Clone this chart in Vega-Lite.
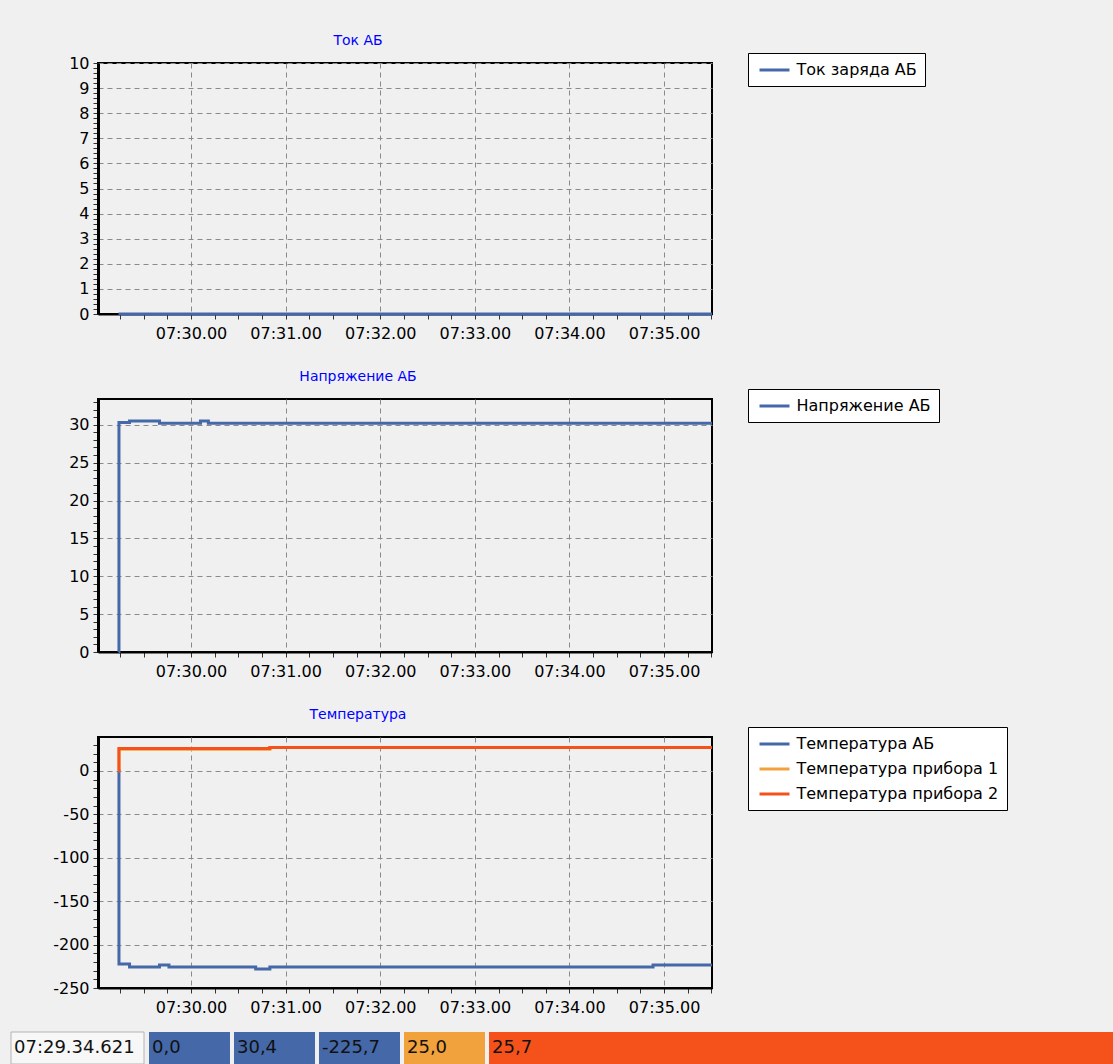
{
  "$schema": "https://vega.github.io/schema/vega-lite/v6.json",
  "background": "#f0f0f0",
  "padding": {"left": 10, "top": 32, "right": 0, "bottom": 0},
  "datasets": {
    "current": [
      {"t": "2024-01-01T07:29:14.000", "v": 0, "s": "Ток заряда АБ"},
      {"t": "2024-01-01T07:35:30.400", "v": 0, "s": "Ток заряда АБ"}
    ],
    "voltage": [
      {"t": "2024-01-01T07:29:14.000", "v": 0, "s": "Напряжение АБ"},
      {"t": "2024-01-01T07:29:14.300", "v": 30.3, "s": "Напряжение АБ"},
      {"t": "2024-01-01T07:29:21.000", "v": 30.5, "s": "Напряжение АБ"},
      {"t": "2024-01-01T07:29:40.000", "v": 30.2, "s": "Напряжение АБ"},
      {"t": "2024-01-01T07:30:06.000", "v": 30.5, "s": "Напряжение АБ"},
      {"t": "2024-01-01T07:30:11.000", "v": 30.2, "s": "Напряжение АБ"},
      {"t": "2024-01-01T07:35:30.400", "v": 30.2, "s": "Напряжение АБ"}
    ],
    "temp": [
      {"t": "2024-01-01T07:29:14.000", "v": 0, "s": "Температура АБ"},
      {"t": "2024-01-01T07:29:14.300", "v": -222.5, "s": "Температура АБ"},
      {"t": "2024-01-01T07:29:21.000", "v": -225.7, "s": "Температура АБ"},
      {"t": "2024-01-01T07:29:40.000", "v": -223.5, "s": "Температура АБ"},
      {"t": "2024-01-01T07:29:46.000", "v": -225.7, "s": "Температура АБ"},
      {"t": "2024-01-01T07:30:41.000", "v": -228, "s": "Температура АБ"},
      {"t": "2024-01-01T07:30:50.000", "v": -225.7, "s": "Температура АБ"},
      {"t": "2024-01-01T07:34:53.000", "v": -223.5, "s": "Температура АБ"},
      {"t": "2024-01-01T07:35:30.400", "v": -223.5, "s": "Температура АБ"},
      {"t": "2024-01-01T07:29:14.000", "v": 0, "s": "Температура прибора 1"},
      {"t": "2024-01-01T07:29:14.300", "v": 25.0, "s": "Температура прибора 1"},
      {"t": "2024-01-01T07:30:50.000", "v": 27.0, "s": "Температура прибора 1"},
      {"t": "2024-01-01T07:35:30.400", "v": 27.0, "s": "Температура прибора 1"},
      {"t": "2024-01-01T07:29:14.000", "v": 0, "s": "Температура прибора 2"},
      {"t": "2024-01-01T07:29:14.300", "v": 25.7, "s": "Температура прибора 2"},
      {"t": "2024-01-01T07:30:50.000", "v": 27.0, "s": "Температура прибора 2"},
      {"t": "2024-01-01T07:35:30.400", "v": 27.0, "s": "Температура прибора 2"}
    ]
  },
  "config": {
    "font": "DejaVu Sans",
    "view": {"stroke": "#000000", "strokeWidth": 2},
    "axis": {
      "labelFont": "DejaVu Sans",
      "labelFontSize": 16,
      "labelColor": "#000000",
      "tickColor": "#333333",
      "tickWidth": 1,
      "tickSize": 5,
      "domainColor": "#000000",
      "gridColor": "#8a8a8a",
      "gridDash": [5, 4],
      "gridWidth": 1,
      "labelOverlap": false,
      "labelFlush": false
    },
    "axisY": {"domainWidth": 3, "minExtent": 87, "labelPadding": 4},
    "axisX": {"domainWidth": 2, "labelPadding": 6},
    "legend": {
      "fillColor": "#ffffff",
      "strokeColor": "#000000",
      "padding": 8,
      "symbolType": "M-2,0L2,0",
      "symbolSize": 225,
      "symbolOffset": 9.5,
      "symbolStrokeWidth": 3,
      "labelFont": "DejaVu Sans",
      "labelFontSize": 16,
      "labelColor": "#000000",
      "labelOffset": 13,
      "rowPadding": 8,
      "labelLimit": 400
    },
    "title": {
      "font": "DejaVu Sans",
      "fontSize": 14,
      "fontWeight": "normal",
      "color": "#0000ff",
      "baseline": "alphabetic",
      "offset": 5,
      "frame": "group"
    },
    "line": {"strokeWidth": 3, "interpolate": "step-after"}
  },
  "concat": [
    {
      "vconcat": [
        {
          "width": 614,
          "height": 251,
          "title": {"text": "Ток АБ", "dx": -47},
          "data": {"name": "current"},
          "mark": {"type": "line"},
          "encoding": {
            "x": {
              "field": "t", "type": "temporal",
              "scale": {"domain": [
                {"year": 2024, "month": 1, "date": 1, "hours": 7, "minutes": 29, "seconds": 1},
                {"year": 2024, "month": 1, "date": 1, "hours": 7, "minutes": 35, "seconds": 30, "milliseconds": 400}
              ]},
              "axis": {
                "title": null,
                "format": "%H:%M.%S",
                "values": [
                  {"year": 2024, "month": 1, "date": 1, "hours": 7, "minutes": 29, "seconds": 15},
                  {"year": 2024, "month": 1, "date": 1, "hours": 7, "minutes": 29, "seconds": 30},
                  {"year": 2024, "month": 1, "date": 1, "hours": 7, "minutes": 29, "seconds": 45},
                  {"year": 2024, "month": 1, "date": 1, "hours": 7, "minutes": 30, "seconds": 0},
                  {"year": 2024, "month": 1, "date": 1, "hours": 7, "minutes": 30, "seconds": 15},
                  {"year": 2024, "month": 1, "date": 1, "hours": 7, "minutes": 30, "seconds": 30},
                  {"year": 2024, "month": 1, "date": 1, "hours": 7, "minutes": 30, "seconds": 45},
                  {"year": 2024, "month": 1, "date": 1, "hours": 7, "minutes": 31, "seconds": 0},
                  {"year": 2024, "month": 1, "date": 1, "hours": 7, "minutes": 31, "seconds": 15},
                  {"year": 2024, "month": 1, "date": 1, "hours": 7, "minutes": 31, "seconds": 30},
                  {"year": 2024, "month": 1, "date": 1, "hours": 7, "minutes": 31, "seconds": 45},
                  {"year": 2024, "month": 1, "date": 1, "hours": 7, "minutes": 32, "seconds": 0},
                  {"year": 2024, "month": 1, "date": 1, "hours": 7, "minutes": 32, "seconds": 15},
                  {"year": 2024, "month": 1, "date": 1, "hours": 7, "minutes": 32, "seconds": 30},
                  {"year": 2024, "month": 1, "date": 1, "hours": 7, "minutes": 32, "seconds": 45},
                  {"year": 2024, "month": 1, "date": 1, "hours": 7, "minutes": 33, "seconds": 0},
                  {"year": 2024, "month": 1, "date": 1, "hours": 7, "minutes": 33, "seconds": 15},
                  {"year": 2024, "month": 1, "date": 1, "hours": 7, "minutes": 33, "seconds": 30},
                  {"year": 2024, "month": 1, "date": 1, "hours": 7, "minutes": 33, "seconds": 45},
                  {"year": 2024, "month": 1, "date": 1, "hours": 7, "minutes": 34, "seconds": 0},
                  {"year": 2024, "month": 1, "date": 1, "hours": 7, "minutes": 34, "seconds": 15},
                  {"year": 2024, "month": 1, "date": 1, "hours": 7, "minutes": 34, "seconds": 30},
                  {"year": 2024, "month": 1, "date": 1, "hours": 7, "minutes": 34, "seconds": 45},
                  {"year": 2024, "month": 1, "date": 1, "hours": 7, "minutes": 35, "seconds": 0},
                  {"year": 2024, "month": 1, "date": 1, "hours": 7, "minutes": 35, "seconds": 15},
                  {"year": 2024, "month": 1, "date": 1, "hours": 7, "minutes": 35, "seconds": 30}
                ],
                "labelExpr": "slice(datum.label, -2) === '00' ? datum.label : ''",
                "gridOpacity": {"condition": {"test": "datum.value % 60000 === 0", "value": 1}, "value": 0}
              }
            },
            "y": {
              "field": "v", "type": "quantitative",
              "scale": {"domain": [0, 10], "nice": false, "zero": false},
              "axis": {
                "title": null,
                "tickCount": 50,
                "labelExpr": "abs(datum.value - round(datum.value)) < 0.001 ? toString(round(datum.value)) : ''",
                "gridOpacity": {"condition": {"test": "abs(datum.value - round(datum.value)) < 0.001 && datum.value > 0.5", "value": 1}, "value": 0}
              }
            },
            "color": {
              "field": "s", "type": "nominal",
              "scale": {"domain": ["Ток заряда АБ"], "range": ["#4468a8"]},
              "legend": {"title": null, "orient": "none", "legendX": 650, "legendY": -10}
            }
          }
        },
        {
          "width": 614,
          "height": 253,
          "title": {"text": "Напряжение АБ", "dx": -47},
          "data": {"name": "voltage"},
          "mark": {"type": "line"},
          "encoding": {
            "x": {
              "field": "t", "type": "temporal",
              "scale": {"domain": [
                {"year": 2024, "month": 1, "date": 1, "hours": 7, "minutes": 29, "seconds": 1},
                {"year": 2024, "month": 1, "date": 1, "hours": 7, "minutes": 35, "seconds": 30, "milliseconds": 400}
              ]},
              "axis": {
                "title": null,
                "format": "%H:%M.%S",
                "values": [
                  {"year": 2024, "month": 1, "date": 1, "hours": 7, "minutes": 29, "seconds": 15},
                  {"year": 2024, "month": 1, "date": 1, "hours": 7, "minutes": 29, "seconds": 30},
                  {"year": 2024, "month": 1, "date": 1, "hours": 7, "minutes": 29, "seconds": 45},
                  {"year": 2024, "month": 1, "date": 1, "hours": 7, "minutes": 30, "seconds": 0},
                  {"year": 2024, "month": 1, "date": 1, "hours": 7, "minutes": 30, "seconds": 15},
                  {"year": 2024, "month": 1, "date": 1, "hours": 7, "minutes": 30, "seconds": 30},
                  {"year": 2024, "month": 1, "date": 1, "hours": 7, "minutes": 30, "seconds": 45},
                  {"year": 2024, "month": 1, "date": 1, "hours": 7, "minutes": 31, "seconds": 0},
                  {"year": 2024, "month": 1, "date": 1, "hours": 7, "minutes": 31, "seconds": 15},
                  {"year": 2024, "month": 1, "date": 1, "hours": 7, "minutes": 31, "seconds": 30},
                  {"year": 2024, "month": 1, "date": 1, "hours": 7, "minutes": 31, "seconds": 45},
                  {"year": 2024, "month": 1, "date": 1, "hours": 7, "minutes": 32, "seconds": 0},
                  {"year": 2024, "month": 1, "date": 1, "hours": 7, "minutes": 32, "seconds": 15},
                  {"year": 2024, "month": 1, "date": 1, "hours": 7, "minutes": 32, "seconds": 30},
                  {"year": 2024, "month": 1, "date": 1, "hours": 7, "minutes": 32, "seconds": 45},
                  {"year": 2024, "month": 1, "date": 1, "hours": 7, "minutes": 33, "seconds": 0},
                  {"year": 2024, "month": 1, "date": 1, "hours": 7, "minutes": 33, "seconds": 15},
                  {"year": 2024, "month": 1, "date": 1, "hours": 7, "minutes": 33, "seconds": 30},
                  {"year": 2024, "month": 1, "date": 1, "hours": 7, "minutes": 33, "seconds": 45},
                  {"year": 2024, "month": 1, "date": 1, "hours": 7, "minutes": 34, "seconds": 0},
                  {"year": 2024, "month": 1, "date": 1, "hours": 7, "minutes": 34, "seconds": 15},
                  {"year": 2024, "month": 1, "date": 1, "hours": 7, "minutes": 34, "seconds": 30},
                  {"year": 2024, "month": 1, "date": 1, "hours": 7, "minutes": 34, "seconds": 45},
                  {"year": 2024, "month": 1, "date": 1, "hours": 7, "minutes": 35, "seconds": 0},
                  {"year": 2024, "month": 1, "date": 1, "hours": 7, "minutes": 35, "seconds": 15},
                  {"year": 2024, "month": 1, "date": 1, "hours": 7, "minutes": 35, "seconds": 30}
                ],
                "labelExpr": "slice(datum.label, -2) === '00' ? datum.label : ''",
                "gridOpacity": {"condition": {"test": "datum.value % 60000 === 0", "value": 1}, "value": 0}
              }
            },
            "y": {
              "field": "v", "type": "quantitative",
              "scale": {"domain": [0, 33.4], "nice": false, "zero": false},
              "axis": {
                "title": null,
                "tickCount": 34,
                "labelExpr": "datum.value % 5 === 0 ? toString(datum.value) : ''",
                "gridOpacity": {"condition": {"test": "datum.value % 5 === 0 && datum.value > 0", "value": 1}, "value": 0}
              }
            },
            "color": {
              "field": "s", "type": "nominal",
              "scale": {"domain": ["Напряжение АБ"], "range": ["#4468a8"]},
              "legend": {"title": null, "orient": "none", "legendX": 650, "legendY": -10}
            }
          }
        },
        {
          "width": 614,
          "height": 251,
          "title": {"text": "Температура", "dx": -47},
          "data": {"name": "temp"},
          "mark": {"type": "line"},
          "encoding": {
            "x": {
              "field": "t", "type": "temporal",
              "scale": {"domain": [
                {"year": 2024, "month": 1, "date": 1, "hours": 7, "minutes": 29, "seconds": 1},
                {"year": 2024, "month": 1, "date": 1, "hours": 7, "minutes": 35, "seconds": 30, "milliseconds": 400}
              ]},
              "axis": {
                "title": null,
                "format": "%H:%M.%S",
                "values": [
                  {"year": 2024, "month": 1, "date": 1, "hours": 7, "minutes": 29, "seconds": 15},
                  {"year": 2024, "month": 1, "date": 1, "hours": 7, "minutes": 29, "seconds": 30},
                  {"year": 2024, "month": 1, "date": 1, "hours": 7, "minutes": 29, "seconds": 45},
                  {"year": 2024, "month": 1, "date": 1, "hours": 7, "minutes": 30, "seconds": 0},
                  {"year": 2024, "month": 1, "date": 1, "hours": 7, "minutes": 30, "seconds": 15},
                  {"year": 2024, "month": 1, "date": 1, "hours": 7, "minutes": 30, "seconds": 30},
                  {"year": 2024, "month": 1, "date": 1, "hours": 7, "minutes": 30, "seconds": 45},
                  {"year": 2024, "month": 1, "date": 1, "hours": 7, "minutes": 31, "seconds": 0},
                  {"year": 2024, "month": 1, "date": 1, "hours": 7, "minutes": 31, "seconds": 15},
                  {"year": 2024, "month": 1, "date": 1, "hours": 7, "minutes": 31, "seconds": 30},
                  {"year": 2024, "month": 1, "date": 1, "hours": 7, "minutes": 31, "seconds": 45},
                  {"year": 2024, "month": 1, "date": 1, "hours": 7, "minutes": 32, "seconds": 0},
                  {"year": 2024, "month": 1, "date": 1, "hours": 7, "minutes": 32, "seconds": 15},
                  {"year": 2024, "month": 1, "date": 1, "hours": 7, "minutes": 32, "seconds": 30},
                  {"year": 2024, "month": 1, "date": 1, "hours": 7, "minutes": 32, "seconds": 45},
                  {"year": 2024, "month": 1, "date": 1, "hours": 7, "minutes": 33, "seconds": 0},
                  {"year": 2024, "month": 1, "date": 1, "hours": 7, "minutes": 33, "seconds": 15},
                  {"year": 2024, "month": 1, "date": 1, "hours": 7, "minutes": 33, "seconds": 30},
                  {"year": 2024, "month": 1, "date": 1, "hours": 7, "minutes": 33, "seconds": 45},
                  {"year": 2024, "month": 1, "date": 1, "hours": 7, "minutes": 34, "seconds": 0},
                  {"year": 2024, "month": 1, "date": 1, "hours": 7, "minutes": 34, "seconds": 15},
                  {"year": 2024, "month": 1, "date": 1, "hours": 7, "minutes": 34, "seconds": 30},
                  {"year": 2024, "month": 1, "date": 1, "hours": 7, "minutes": 34, "seconds": 45},
                  {"year": 2024, "month": 1, "date": 1, "hours": 7, "minutes": 35, "seconds": 0},
                  {"year": 2024, "month": 1, "date": 1, "hours": 7, "minutes": 35, "seconds": 15},
                  {"year": 2024, "month": 1, "date": 1, "hours": 7, "minutes": 35, "seconds": 30}
                ],
                "labelExpr": "slice(datum.label, -2) === '00' ? datum.label : ''",
                "gridOpacity": {"condition": {"test": "datum.value % 60000 === 0", "value": 1}, "value": 0}
              }
            },
            "y": {
              "field": "v", "type": "quantitative",
              "scale": {"domain": [-250, 39], "nice": false, "zero": false},
              "axis": {
                "title": null,
                "tickCount": 29,
                "labelExpr": "datum.value % 50 === 0 ? toString(datum.value) : ''",
                "gridOpacity": {"condition": {"test": "datum.value % 50 === 0 && datum.value > -250", "value": 1}, "value": 0}
              }
            },
            "color": {
              "field": "s", "type": "nominal",
              "scale": {
                "domain": ["Температура АБ", "Температура прибора 1", "Температура прибора 2"],
                "range": ["#4468a8", "#f2a23c", "#f4521a"]
              },
              "legend": {"title": null, "orient": "none", "legendX": 650, "legendY": -10}
            }
          }
        }
      ],
      "spacing": 26,
      "resolve": {"scale": {"color": "independent", "y": "independent"}, "legend": {"color": "independent"}}
    },
    {
      "hconcat": [
        {
          "width": 46,
          "height": 32,
          "view": {"stroke": null},
          "data": {"values": [{"cell": "07:29.34.621", "s": "Время"}]},
          "layer": [
            {
              "mark": {"type": "rect", "fill": "#f7f7f7", "stroke": "#b4b4b4", "strokeWidth": 1},
              "encoding": {"x": {"field": "s", "type": "nominal", "axis": null, "scale": {"range": [-87, 46], "paddingInner": 0, "paddingOuter": 0}}}
            },
            {
              "mark": {"type": "text", "align": "left", "dx": 3, "fontSize": 18, "font": "DejaVu Sans", "color": "#111111"},
              "encoding": {
                "x": {"field": "s", "type": "nominal", "axis": null, "bandPosition": 0},
                "text": {"field": "cell"}
              }
            }
          ]
        },
        {
          "width": 336,
          "height": 32,
          "view": {"stroke": null},
          "data": {"values": [
            {"cell": "0,0", "s": "Ток заряда АБ"},
            {"cell": "30,4", "s": "Напряжение АБ"},
            {"cell": "-225,7", "s": "Температура АБ"},
            {"cell": "25,0", "s": "Температура прибора 1"}
          ]},
          "layer": [
            {
              "mark": {"type": "rect"},
              "encoding": {
                "x": {"field": "s", "type": "nominal", "axis": null, "sort": null,
                      "scale": {"paddingInner": 0.047, "paddingOuter": 0}},
                "color": {"field": "s", "type": "nominal", "legend": null,
                          "scale": {"domain": ["Ток заряда АБ", "Напряжение АБ", "Температура АБ", "Температура прибора 1"],
                                    "range": ["#4468a8", "#4468a8", "#4468a8", "#f2a23c"]}}
              }
            },
            {
              "mark": {"type": "text", "align": "left", "dx": 3, "fontSize": 18, "font": "DejaVu Sans", "color": "#111111"},
              "encoding": {
                "x": {"field": "s", "type": "nominal", "axis": null, "sort": null, "bandPosition": 0},
                "text": {"field": "cell"}
              }
            }
          ]
        },
        {
          "width": 626,
          "height": 32,
          "view": {"stroke": null},
          "data": {"values": [{"cell": "25,7", "s": "Температура прибора 2"}]},
          "layer": [
            {
              "mark": {"type": "rect", "fill": "#f4521a"},
              "encoding": {"x": {"field": "s", "type": "nominal", "axis": null, "scale": {"paddingInner": 0, "paddingOuter": 0}}}
            },
            {
              "mark": {"type": "text", "align": "left", "dx": 3, "fontSize": 18, "font": "DejaVu Sans", "color": "#111111"},
              "encoding": {
                "x": {"field": "s", "type": "nominal", "axis": null, "bandPosition": 0},
                "text": {"field": "cell"}
              }
            }
          ]
        }
      ],
      "spacing": 4,
      "resolve": {"scale": {"color": "independent", "x": "independent"}}
    }
  ],
  "columns": 1,
  "spacing": 15,
  "resolve": {"scale": {"color": "independent", "x": "independent", "y": "independent"}, "legend": {"color": "independent"}}
}
